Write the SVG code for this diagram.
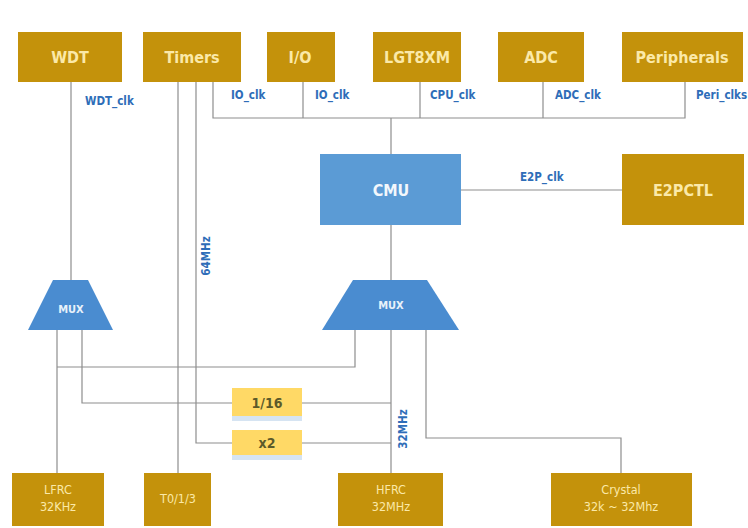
<svg xmlns="http://www.w3.org/2000/svg" width="748" height="528" viewBox="0 0 748 528">
<style>
.gold{fill:#C4920B;}
.gt{fill:#FBE9A8;font-family:"DejaVu Sans Condensed","Liberation Sans Narrow","Liberation Sans",sans-serif;font-size:16px;font-weight:bold;text-anchor:middle;}
.gs{fill:#FBE9A8;font-family:"DejaVu Sans Condensed","Liberation Sans Narrow","Liberation Sans",sans-serif;font-size:12.5px;text-anchor:middle;}
.blue{fill:#5B9BD5;}
.mux{fill:#4A8CD0;}
.bt{fill:#F2F7FC;font-family:"DejaVu Sans Condensed","Liberation Sans Narrow","Liberation Sans",sans-serif;font-size:16px;font-weight:bold;text-anchor:middle;}
.mt{fill:#E8F1FA;font-family:"DejaVu Sans Condensed","Liberation Sans Narrow","Liberation Sans",sans-serif;font-size:11px;font-weight:bold;text-anchor:middle;}
.yel{fill:#FFD966;}
.yt{fill:#5C5A2A;font-family:"DejaVu Sans Condensed","Liberation Sans Narrow","Liberation Sans",sans-serif;font-size:14px;font-weight:bold;text-anchor:middle;}
.sh{fill:#D6E4F2;}
.lbl{fill:#2E6DB8;font-family:"DejaVu Sans Condensed","Liberation Sans Narrow","Liberation Sans",sans-serif;font-size:11.5px;font-weight:bold;}
.ln{fill:none;stroke:#8E8E8E;stroke-width:1.2;}
</style>
<rect width="748" height="528" fill="#FFFFFF"/>
<g id="connectors">
<path class="ln" d="M71 82 V280"/>
<path class="ln" d="M178 82 V473"/>
<path class="ln" d="M196 82 V443 H232"/>
<path class="ln" d="M302 443 H391"/>
<path class="ln" d="M213 82 V118 H685 V82"/>
<path class="ln" d="M303 82 V118"/>
<path class="ln" d="M420 82 V118"/>
<path class="ln" d="M543 82 V118"/>
<path class="ln" d="M391 118 V154"/>
<path class="ln" d="M461 190 H622"/>
<path class="ln" d="M391 225 V280"/>
<path class="ln" d="M57 330 V473"/>
<path class="ln" d="M57 367 H355 V330"/>
<path class="ln" d="M82 330 V403 H232"/>
<path class="ln" d="M302 403 H391"/>
<path class="ln" d="M391 330 V473"/>
<path class="ln" d="M426 330 V438 H621 V473"/>
</g>
<g id="labels">
<text class="lbl" x="85" y="105">WDT_clk</text>
<text class="lbl" x="231" y="99">IO_clk</text>
<text class="lbl" x="315" y="99">IO_clk</text>
<text class="lbl" x="430" y="99">CPU_clk</text>
<text class="lbl" x="555" y="99">ADC_clk</text>
<text class="lbl" x="696" y="99">Peri_clks</text>
<text class="lbl" x="520" y="181">E2P_clk</text>
<text class="lbl" x="0" y="0" transform="translate(210 256) rotate(-90)" text-anchor="middle">64MHz</text>
<text class="lbl" x="0" y="0" transform="translate(407 429) rotate(-90)" text-anchor="middle">32MHz</text>
</g>
<g id="WDT"><rect class="gold" x="18" y="32" width="104" height="50"/><text class="gt" x="70" y="63">WDT</text></g>
<g id="Timers"><rect class="gold" x="143" y="32" width="98" height="50"/><text class="gt" x="192" y="63">Timers</text></g>
<g id="IO"><rect class="gold" x="267" y="32" width="68" height="50"/><text class="gt" x="300" y="63">I/O</text></g>
<g id="LGT8XM"><rect class="gold" x="373" y="32" width="88" height="50"/><text class="gt" x="417" y="63">LGT8XM</text></g>
<g id="ADC"><rect class="gold" x="498" y="32" width="86" height="50"/><text class="gt" x="541" y="63">ADC</text></g>
<g id="Peripherals"><rect class="gold" x="622" y="32" width="121" height="50"/><text class="gt" x="682" y="63">Peripherals</text></g>
<g id="CMU"><rect class="blue" x="320" y="154" width="141" height="71"/><text class="bt" x="391" y="196">CMU</text></g>
<g id="E2PCTL"><rect class="gold" x="622" y="154" width="122" height="71"/><text class="gt" x="683" y="196">E2PCTL</text></g>
<g id="MUX1"><polygon class="mux" points="53,280 88,280 113,330 28,330"/><text class="mt" x="71" y="313">MUX</text></g>
<g id="MUX2"><polygon class="mux" points="353,280 427,280 459,330 322,330"/><text class="mt" x="391" y="309">MUX</text></g>
<g id="DIV16"><rect class="sh" x="232" y="413" width="70" height="8"/><rect class="yel" x="232" y="388" width="70" height="28"/><text class="yt" x="267" y="408">1/16</text></g>
<g id="X2"><rect class="sh" x="232" y="452" width="70" height="8"/><rect class="yel" x="232" y="430" width="70" height="25"/><text class="yt" x="267" y="448">x2</text></g>
<g id="LFRC"><rect class="gold" x="12" y="473" width="92" height="53"/><text class="gs" x="58" y="494">LFRC</text><text class="gs" x="58" y="511">32KHz</text></g>
<g id="T013"><rect class="gold" x="144" y="473" width="67" height="53"/><text class="gs" x="178" y="503">T0/1/3</text></g>
<g id="HFRC"><rect class="gold" x="338" y="473" width="105" height="53"/><text class="gs" x="391" y="494">HFRC</text><text class="gs" x="391" y="511">32MHz</text></g>
<g id="Crystal"><rect class="gold" x="551" y="473" width="141" height="53"/><text class="gs" x="621" y="494">Crystal</text><text class="gs" x="621" y="511">32k ~ 32Mhz</text></g>
</svg>
